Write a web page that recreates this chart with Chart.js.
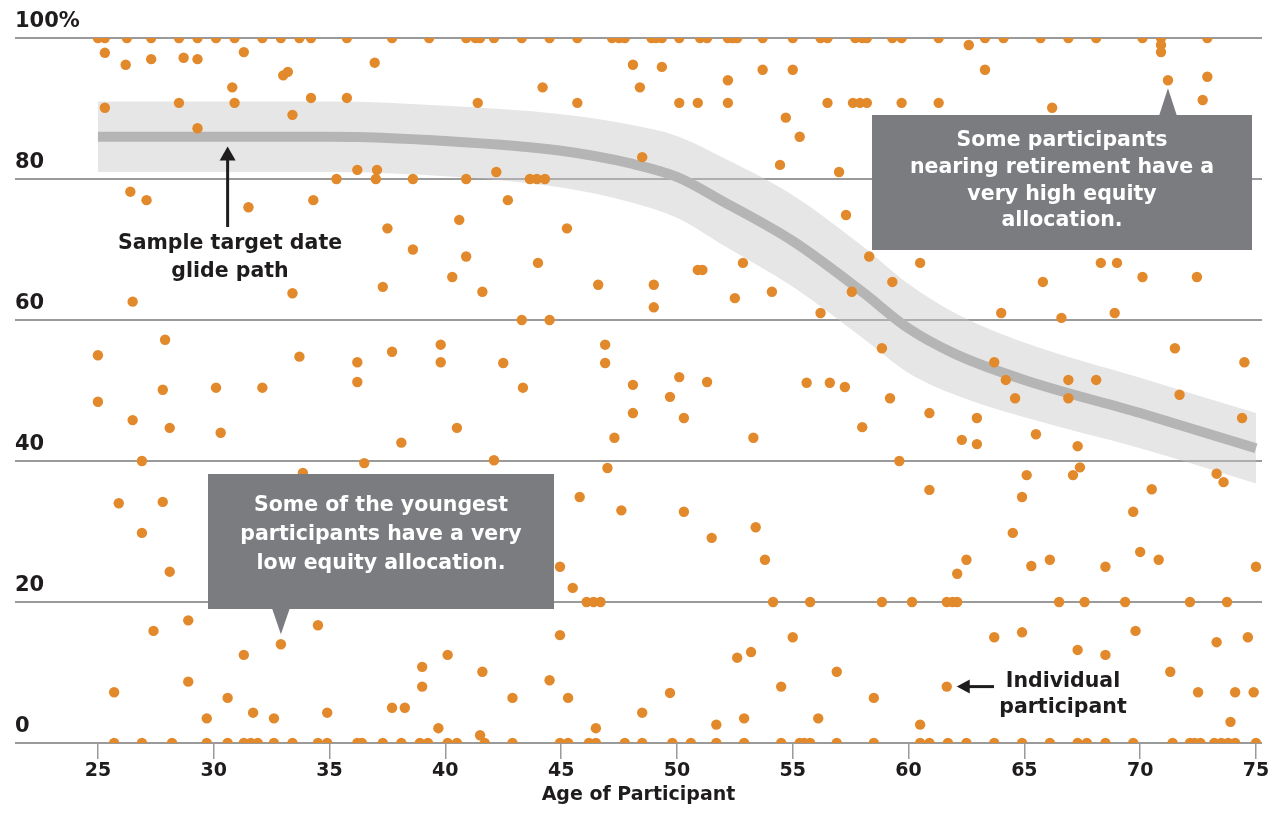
<!DOCTYPE html>
<html>
<head>
<meta charset="utf-8">
<title>Equity allocation by age of participant</title>
<script src="https://cdn.jsdelivr.net/npm/chart.js@4.4.1/dist/chart.umd.min.js"></script>
<style>
  html, body { margin: 0; padding: 0; background: #fff; }
  #chart { display: block; }
</style>
</head>
<body>
<canvas id="chart" width="1276" height="835"></canvas>
<script>
var xTicks = [25, 30, 35, 40, 45, 50, 55, 60, 65, 70, 75];
var yTicks = [0, 20, 40, 60, 80, 100];

// participants stacked on the 100% line
var agesAt100 = [25.0, 25.3, 26.25, 27.3, 28.5, 29.3, 30.1, 30.9, 32.1, 32.9, 33.7, 34.2, 35.75, 37.7,
  39.3, 40.9, 41.3, 41.5, 42.1, 43.3, 44.5, 45.7, 47.2, 47.5, 47.75, 48.9, 49.1, 49.35, 50.1, 51.0,
  51.3, 52.2, 52.4, 52.6, 53.7, 55.0, 56.2, 56.5, 57.7, 58.0, 58.2, 59.3, 59.7, 61.3, 63.3, 64.1,
  65.7, 66.9, 68.1, 70.1, 70.9, 72.9];
var agesAt80 = [35.3, 37.0, 38.6, 40.9, 43.65, 43.95, 44.3];
var agesAt20 = [46.1, 46.4, 46.7, 54.15, 55.75, 58.85, 60.15, 61.65, 61.9, 62.1, 66.5, 67.6, 69.35,
  72.15, 73.75];
var agesAt0 = [25.7, 26.9, 28.2, 29.7, 30.6, 31.3, 31.6, 31.9, 32.6, 33.4, 34.5, 34.9, 36.2, 36.4,
  37.3, 38.1, 38.9, 39.25, 40.1, 40.5, 41.7, 42.9, 44.95, 45.3, 46.2, 46.5, 47.75, 48.5, 49.8, 50.6,
  51.7, 52.9, 54.5, 55.3, 55.5, 55.75, 56.9, 58.5, 60.5, 60.9, 61.7, 62.5, 63.7, 64.9, 66.1, 67.3,
  67.7, 68.5, 69.7, 71.4, 72.15, 72.35, 72.6, 73.2, 73.5, 73.8, 74.1, 75.0];

// everyone else: [age, equity %]
var otherParticipants = [
  [62.6, 99], [70.9, 99], [70.9, 98],
  [25.3, 97.9], [26.2, 96.2], [27.3, 97.0], [28.7, 97.2], [29.3, 97.0], [31.3, 98.0], [33.0, 94.7],
  [33.2, 95.2], [30.8, 93.0], [25.3, 90.1], [28.5, 90.8], [30.9, 90.8], [29.3, 87.2], [26.4, 78.2],
  [27.1, 77.0], [31.5, 76.0], [26.5, 62.6], [27.9, 57.2], [25.0, 55.0],
  [36.95, 96.5], [34.2, 91.5], [35.75, 91.5], [33.4, 89.1], [41.4, 90.8], [36.2, 81.3], [37.05, 81.3],
  [34.3, 77.0], [37.5, 73.0], [40.6, 74.2], [38.6, 70.0], [40.9, 69.0], [40.3, 66.1], [37.3, 64.7],
  [33.4, 63.8], [41.6, 64.0], [33.7, 54.8], [36.2, 54.0], [36.2, 51.2], [37.7, 55.5], [39.8, 56.5],
  [39.8, 54.0],
  [48.1, 96.2], [49.35, 95.9], [44.2, 93.0], [48.4, 93.0], [45.7, 90.8], [50.1, 90.8], [48.5, 83.1],
  [42.2, 81.0], [42.7, 77.0], [45.25, 73.0], [44.0, 68.1], [46.6, 65.0], [49.0, 65.0], [49.0, 61.8],
  [43.3, 60], [44.5, 60], [46.9, 56.5], [46.9, 53.9], [42.5, 53.9], [50.1, 51.9], [43.35, 50.4],
  [48.1, 50.8],
  [53.7, 95.5], [55.0, 95.5], [52.2, 94.0], [50.9, 90.8], [52.2, 90.8], [56.5, 90.8], [57.6, 90.8],
  [57.9, 90.8], [58.2, 90.8], [54.7, 88.7], [55.3, 86.0], [54.45, 82.0], [57.0, 81.0], [57.3, 74.9],
  [58.3, 69.0], [50.9, 67.1], [51.1, 67.1], [52.85, 68.1], [52.5, 63.1], [54.1, 64.0], [57.55, 64.0],
  [56.2, 61.0], [58.85, 56.0], [51.3, 51.2], [55.6, 51.1], [56.6, 51.1], [57.25, 50.5],
  [63.3, 95.5], [59.7, 90.8], [61.3, 90.8], [66.2, 90.1], [60.5, 68.1], [59.3, 65.4], [65.8, 65.4],
  [64.0, 61.0], [66.6, 60.3], [63.7, 54.0], [64.2, 51.5], [66.9, 51.5],
  [71.2, 94.0], [72.9, 94.5], [72.7, 91.2], [68.3, 68.1], [69.0, 68.1], [70.1, 66.1], [72.45, 66.1],
  [68.9, 61.0], [71.5, 56.0], [74.5, 54.0], [68.1, 51.5],
  [27.8, 50.1], [30.1, 50.4], [32.1, 50.4], [25.0, 48.4], [26.5, 45.8], [28.1, 44.7], [30.3, 44.0],
  [26.9, 40.0], [25.9, 34.0], [27.8, 34.2], [26.9, 29.8], [28.1, 24.3], [28.9, 17.4], [27.4, 15.9],
  [32.9, 14.0], [31.3, 12.5], [25.7, 7.2], [28.9, 8.7], [30.6, 6.4], [29.7, 3.5], [31.7, 4.3],
  [32.6, 3.5],
  [40.5, 44.7], [38.1, 42.6], [36.5, 39.7], [33.85, 38.3], [34.5, 16.7], [40.1, 12.5], [39.0, 10.8],
  [39.0, 8.0], [41.6, 10.1], [37.7, 5.0], [38.25, 5.0], [34.9, 4.3], [39.7, 2.1], [41.5, 1.1],
  [48.1, 46.8], [49.7, 49.1], [50.3, 46.1], [47.3, 43.3], [42.1, 40.1], [47.0, 39.0], [45.8, 34.9],
  [47.6, 33.0], [50.3, 32.8], [44.95, 25.0], [45.5, 22.0], [44.95, 15.3], [44.5, 8.9], [42.9, 6.4],
  [45.3, 6.4], [49.7, 7.1], [48.5, 4.3], [46.5, 2.1],
  [58.0, 44.8], [53.3, 43.3], [51.5, 29.1], [53.4, 30.6], [53.8, 26.0], [55.0, 15.0], [53.2, 12.9],
  [52.6, 12.1], [56.9, 10.1], [54.5, 8.0], [58.5, 6.4], [51.7, 2.6], [52.9, 3.5], [56.1, 3.5],
  [59.2, 48.9], [64.6, 48.9], [66.9, 48.9], [60.9, 46.8], [62.95, 46.1], [62.3, 43.0], [62.95, 42.4],
  [65.5, 43.8], [67.3, 42.1], [59.6, 40.0], [67.4, 39.1], [67.1, 38.0], [65.1, 38.0], [64.9, 34.9],
  [60.9, 35.9], [64.5, 29.8], [62.5, 26.0], [62.1, 24.0], [65.3, 25.1], [66.1, 26.0], [63.7, 15.0],
  [64.9, 15.7], [67.3, 13.2], [61.65, 8.0], [60.5, 2.6],
  [71.7, 49.4], [74.4, 46.1], [73.3, 38.2], [73.6, 37.0], [70.5, 36.0], [69.7, 32.8], [70.0, 27.1],
  [70.8, 26.0], [68.5, 25.0], [75.0, 25.0], [69.8, 15.9], [68.5, 12.5], [73.3, 14.3], [74.65, 15.0],
  [71.3, 10.1], [72.5, 7.2], [74.1, 7.2], [74.9, 7.2], [73.9, 3.0]
];

// sample target date glide path and its shaded range
var glideAges   = [25, 30, 35, 40, 45, 48, 50, 52, 55, 58, 60, 62, 65, 70, 75];
var glideEquity = [86, 86, 86, 85.4, 84, 82.2, 80.3, 76.8, 71.2, 64, 58.8, 55.2, 51.5, 46.8, 41.8];
var bandUpper   = [91, 91, 91, 90.4, 89.2, 87.7, 86.1, 83, 77.7, 70.5, 65.1, 61, 56.8, 51.8, 46.8];
var bandLower   = [81, 81, 81, 80.4, 78.8, 76.7, 74.5, 70.6, 64.7, 57.5, 52.5, 49.4, 46.2, 41.8, 36.8];

var FONT = '"DejaVu Sans", "Open Sans", sans-serif';
var INK = '#1f1c1d';
var ORANGE = '#e2892b';

function pts(xs, ys) {
  return xs.map(function (x, i) { return { x: x, y: ys[i] }; });
}
function row(ages, level) {
  return ages.map(function (a) { return { x: a, y: level }; });
}

var dots = [].concat(
  row(agesAt100, 100), row(agesAt80, 80), row(agesAt20, 20), row(agesAt0, 0),
  otherParticipants.map(function (p) { return { x: p[0], y: p[1] }; })
);

function wrapText(c, lines, cx, y0, step) {
  lines.forEach(function (t, i) { c.fillText(t, cx, y0 + i * step); });
}

var notes = {
  id: 'notes',
  afterDraw: function (chart) {
    var c = chart.ctx;
    var sx = chart.scales.x, sy = chart.scales.y;
    c.save();
    c.textAlign = 'center';
    c.textBaseline = 'middle';

    // glide path label + arrow
    c.fillStyle = '#fff';
    c.fillRect(95, 228, 270, 58);
    c.fillStyle = INK;
    c.font = 'bold 20.5px ' + FONT;
    wrapText(c, ['Sample target date', 'glide path'], 230, 244, 28);
    var ax = sx.getPixelForValue(30.6);
    var tip = sy.getPixelForValue(84.6);
    c.strokeStyle = INK;
    c.lineWidth = 3;
    c.beginPath(); c.moveTo(ax, 227); c.lineTo(ax, tip + 8); c.stroke();
    c.beginPath(); c.moveTo(ax, tip); c.lineTo(ax - 8, tip + 14); c.lineTo(ax + 8, tip + 14); c.closePath(); c.fill();

    // individual participant label + arrow
    c.fillStyle = '#fff';
    c.fillRect(995, 664, 140, 60);
    c.fillStyle = INK;
    wrapText(c, ['Individual', 'participant'], 1063, 682, 26);
    var ix = sx.getPixelForValue(61.65) + 10;
    var iy = sy.getPixelForValue(8.0);
    c.beginPath(); c.moveTo(ix + 6, iy); c.lineTo(994, iy); c.stroke();
    c.beginPath(); c.moveTo(ix, iy); c.lineTo(ix + 13, iy - 7); c.lineTo(ix + 13, iy + 7); c.closePath(); c.fill();

    // callout boxes
    c.fillStyle = '#7b7c80';
    c.fillRect(872, 115, 380, 135);
    var px = sx.getPixelForValue(71.2);
    c.beginPath(); c.moveTo(px - 9, 116); c.lineTo(px, sy.getPixelForValue(94.0) + 8); c.lineTo(px + 9, 116); c.closePath(); c.fill();

    c.fillRect(208, 474, 346, 135);
    var qx = sx.getPixelForValue(32.9);
    c.beginPath(); c.moveTo(qx - 9, 608); c.lineTo(qx, sy.getPixelForValue(14.0) - 10); c.lineTo(qx + 9, 608); c.closePath(); c.fill();

    c.fillStyle = '#fff';
    c.font = 'bold 20.5px ' + FONT;
    wrapText(c, ['Some participants', 'nearing retirement have a', 'very high equity', 'allocation.'], 1062, 141, 26.7);
    wrapText(c, ['Some of the youngest', 'participants have a very', 'low equity allocation.'], 381, 506, 29);
    c.restore();
  }
};

new Chart(document.getElementById('chart').getContext('2d'), {
  type: 'scatter',
  data: {
    datasets: [{
      label: 'Individual participant',
      data: dots,
      backgroundColor: ORANGE,
      borderWidth: 0,
      pointRadius: 5.2,
      pointHoverRadius: 5.2,
      order: 0
    }, {
      type: 'line',
      label: 'Sample target date glide path',
      data: pts(glideAges, glideEquity),
      borderColor: '#b5b5b5',
      borderWidth: 10,
      pointRadius: 0,
      cubicInterpolationMode: 'monotone',
      fill: false,
      order: 1
    }, {
      type: 'line',
      label: 'upper',
      data: pts(glideAges, bandUpper),
      borderWidth: 0,
      borderColor: 'rgba(0,0,0,0)',
      pointRadius: 0,
      cubicInterpolationMode: 'monotone',
      fill: '+1',
      backgroundColor: 'rgba(200,200,200,0.45)',
      order: 2
    }, {
      type: 'line',
      label: 'lower',
      data: pts(glideAges, bandLower),
      borderWidth: 0,
      borderColor: 'rgba(0,0,0,0)',
      pointRadius: 0,
      cubicInterpolationMode: 'monotone',
      fill: false,
      order: 3
    }]
  },
  options: {
    responsive: false,
    animation: false,
    events: [],
    layout: { padding: { left: 15, right: 14, top: 38, bottom: 0 } },
    plugins: {
      legend: { display: false },
      tooltip: { enabled: false }
    },
    scales: {
      x: {
        type: 'linear',
        min: 21.42,
        max: 75.26,
        afterBuildTicks: function (s) { s.ticks = xTicks.map(function (v) { return { value: v }; }); },
        afterFit: function (s) { s.height = 92; },
        border: { display: false },
        grid: { drawOnChartArea: false, drawTicks: true, tickLength: 16, color: '#9a9a9a', lineWidth: 1.5 },
        ticks: { color: INK, font: { family: FONT, size: 19, weight: 'bold' }, padding: 1, maxRotation: 0, autoSkip: false },
        title: {
          display: true,
          text: 'Age of Participant',
          color: INK,
          font: { family: FONT, size: 19, weight: 'bold' },
          padding: { top: 0, bottom: 29 }
        }
      },
      y: {
        min: 0,
        max: 100,
        afterBuildTicks: function (s) { s.ticks = yTicks.map(function (v) { return { value: v }; }); },
        afterFit: function (s) { s.width = 0; },
        border: { display: false },
        grid: { color: '#9a9a9a', lineWidth: 2, drawTicks: false },
        ticks: {
          mirror: true,
          padding: 0,
          labelOffset: -16,
          color: INK,
          font: { family: FONT, size: 21, weight: 'bold' },
          callback: function (v) { return v === 100 ? '100%' : v; }
        }
      }
    }
  },
  plugins: [notes]
});
</script>
</body>
</html>
